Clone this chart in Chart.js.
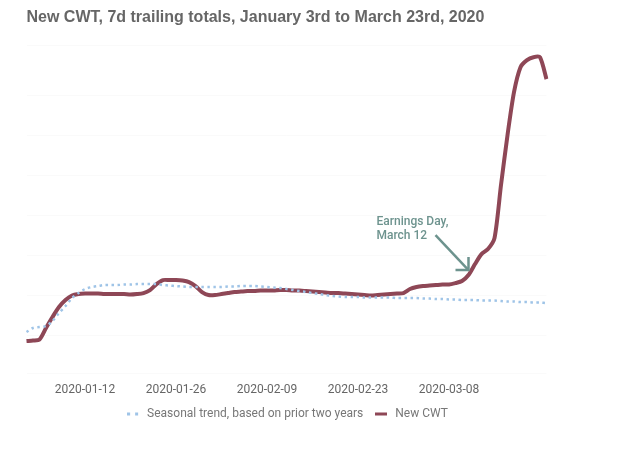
<!DOCTYPE html>
<html>
<head>
<meta charset="utf-8">
<script src="https://cdn.jsdelivr.net/npm/chart.js@4.4.1/dist/chart.umd.min.js"></script>
<style>
  html, body { margin: 0; padding: 0; background: #ffffff; }
  #wrap { width: 640px; height: 451px; }
</style>
</head>
<body>
<div id="wrap"><canvas id="c" width="640" height="451"></canvas></div>
<script>
// Dates Jan 3 .. Mar 23, 2020 (81 days)
const dates = [
  "2020-01-03","2020-01-04","2020-01-05","2020-01-06","2020-01-07","2020-01-08","2020-01-09","2020-01-10","2020-01-11","2020-01-12",
  "2020-01-13","2020-01-14","2020-01-15","2020-01-16","2020-01-17","2020-01-18","2020-01-19","2020-01-20","2020-01-21","2020-01-22",
  "2020-01-23","2020-01-24","2020-01-25","2020-01-26","2020-01-27","2020-01-28","2020-01-29","2020-01-30","2020-01-31","2020-02-01",
  "2020-02-02","2020-02-03","2020-02-04","2020-02-05","2020-02-06","2020-02-07","2020-02-08","2020-02-09","2020-02-10","2020-02-11",
  "2020-02-12","2020-02-13","2020-02-14","2020-02-15","2020-02-16","2020-02-17","2020-02-18","2020-02-19","2020-02-20","2020-02-21",
  "2020-02-22","2020-02-23","2020-02-24","2020-02-25","2020-02-26","2020-02-27","2020-02-28","2020-02-29","2020-03-01","2020-03-02",
  "2020-03-03","2020-03-04","2020-03-05","2020-03-06","2020-03-07","2020-03-08","2020-03-09","2020-03-10","2020-03-11","2020-03-12",
  "2020-03-13","2020-03-14","2020-03-15","2020-03-16","2020-03-17","2020-03-18","2020-03-19","2020-03-20","2020-03-21","2020-03-22",
  "2020-03-23"
];

// Tick labels shown on the x axis
const tickLabels = ["2020-01-12","2020-01-26","2020-02-09","2020-02-23","2020-03-08"];

// New CWT, 7d trailing totals (relative units)
const newCWT = [
  34, 34.5, 35.5, 47, 58, 68, 75, 79.5, 81, 81.5,
  81.5, 81.5, 81, 81, 81, 81, 80.5, 81, 82, 85,
  91, 95, 95, 95, 94.5, 93, 89, 83, 80, 80,
  81, 82, 83, 83.5, 84, 84, 84.5, 84.5, 84.5, 85,
  85, 84.5, 84.5, 84, 83.5, 83, 82.5, 82, 82, 81.5,
  81, 80.5, 80, 79.5, 80, 80.5, 81, 81.5, 82, 86,
  88, 89, 89.5, 90, 90.5, 90.5, 92, 94, 100, 111,
  121, 126, 137, 190, 240, 283, 308, 315, 318, 318,
  296
];

// Seasonal trend, based on prior two years (relative units)
const seasonal = [
  43, 47, 48, 49, 54, 62, 69, 77, 82, 86,
  88, 89, 90, 90, 90, 90.5, 90.5, 91, 91, 91,
  91, 90, 89.5, 89, 88.5, 88, 88, 88, 88, 88,
  88, 88.5, 88.5, 89, 89, 89, 88.5, 88, 87.5, 87,
  86, 85, 84, 83, 82, 81, 80, 79, 78.5, 78,
  78, 78, 77.5, 77.5, 77.5, 77.5, 77.5, 77, 77, 77,
  77, 76.5, 76.5, 76, 76, 75.5, 75.5, 75, 75, 75,
  74.5, 74.5, 74.5, 74, 73.5, 73.5, 73, 73, 72.5, 72.5,
  72
];

const annotationLines = ["Earnings Day,", "March 12"];
const annotationIndex = 68;   // arrow tip near Mar 11/12
const annotationValue = 105;

const RED = "#8e4756";
const BLUE = "#9fc4e7";
const GREY_TEXT = "#666666";
const ANNO = "#6d938e";

function makeBlueIcon() {
  const c = document.createElement("canvas");
  c.width = 12; c.height = 4;
  const g = c.getContext("2d");
  g.fillStyle = BLUE;
  g.fillRect(0, 0.5, 3, 3);
  g.fillRect(8, 0.5, 3, 3);
  return c;
}
function makeRedIcon() {
  const c = document.createElement("canvas");
  c.width = 12; c.height = 4;
  const g = c.getContext("2d");
  g.fillStyle = RED;
  g.fillRect(0, 0.5, 12, 3);
  return c;
}

const annotationPlugin = {
  id: "earningsAnnotation",
  afterDatasetsDraw(chart) {
    const ctx = chart.ctx;
    const xs = chart.scales.x, ys = chart.scales.y;
    const tipX = xs.getPixelForValue(annotationIndex);
    const tipY = ys.getPixelForValue(annotationValue);
    ctx.save();
    ctx.strokeStyle = ANNO;
    ctx.lineWidth = 2.5;
    ctx.lineCap = "butt";
    ctx.beginPath();
    ctx.moveTo(tipX - 33, tipY - 35);
    ctx.lineTo(tipX, tipY);
    ctx.stroke();
    ctx.beginPath();
    ctx.moveTo(tipX - 13, tipY);
    ctx.lineTo(tipX, tipY);
    ctx.lineTo(tipX, tipY - 13);
    ctx.stroke();
    ctx.fillStyle = ANNO;
    ctx.font = "500 12px Roboto";
    ctx.textBaseline = "middle";
    ctx.textAlign = "left";
    ctx.fillText(annotationLines[0], tipX - 92, tipY - 48);
    ctx.fillText(annotationLines[1], tipX - 92, tipY - 34);
    ctx.restore();
  }
};

new Chart(document.getElementById("c"), {
  type: "line",
  data: {
    labels: dates,
    datasets: [
      {
        label: "Seasonal trend, based on prior two years",
        data: seasonal,
        borderColor: BLUE,
        borderWidth: 2.5,
        borderDash: [2.5, 3.5],
        pointRadius: 0,
        tension: 0.3,
        fill: false
      },
      {
        label: "New CWT",
        data: newCWT,
        borderColor: RED,
        borderWidth: 4,
        pointRadius: 0,
        tension: 0.25,
        fill: false
      }
    ]
  },
  options: {
    responsive: false,
    animation: false,
    layout: { padding: { left: 26.5, right: 93.5, top: 0, bottom: 21 } },
    plugins: {
      title: {
        display: true,
        text: "New CWT, 7d trailing totals, January 3rd to March 23rd, 2020",
        align: "start",
        color: GREY_TEXT,
        font: { family: "'Liberation Sans', Arial, sans-serif", size: 16, weight: "bold" },
        padding: { top: 8, bottom: 18 }
      },
      legend: {
        position: "bottom",
        labels: {
          usePointStyle: true,
          pointStyleWidth: 16,
          boxHeight: 4,
          padding: 10,
          color: "#777777",
          font: { family: "Roboto, sans-serif", size: 12 },
          generateLabels(chart) {
            return chart.data.datasets.map((ds, i) => ({
              text: ds.label,
              pointStyle: i === 0 ? makeBlueIcon() : makeRedIcon(),
              fillStyle: ds.borderColor,
              strokeStyle: ds.borderColor,
              lineWidth: 0,
              fontColor: "#777777",
              hidden: false,
              datasetIndex: i
            }));
          }
        }
      },
      tooltip: { enabled: false }
    },
    scales: {
      x: {
        type: "category",
        offset: false,
        grid: { display: false, drawTicks: false },
        border: { display: false },
        afterFit(scale) { scale.height = 25; },
        ticks: {
          autoSkip: false,
          maxRotation: 0,
          padding: 11,
          color: "#666666",
          font: { family: "Roboto, sans-serif", size: 12, lineHeight: 1 },
          callback(value) {
            const lbl = this.getLabelForValue(value);
            return tickLabels.includes(lbl) ? lbl : null;
          }
        }
      },
      y: {
        display: true,
        min: 2,
        max: 330,
        grid: { color: "#fafafa", drawTicks: false },
        border: { display: false },
        ticks: { display: false, stepSize: 40 }
      }
    }
  },
  plugins: [annotationPlugin]
});
</script>
</body>
</html>
